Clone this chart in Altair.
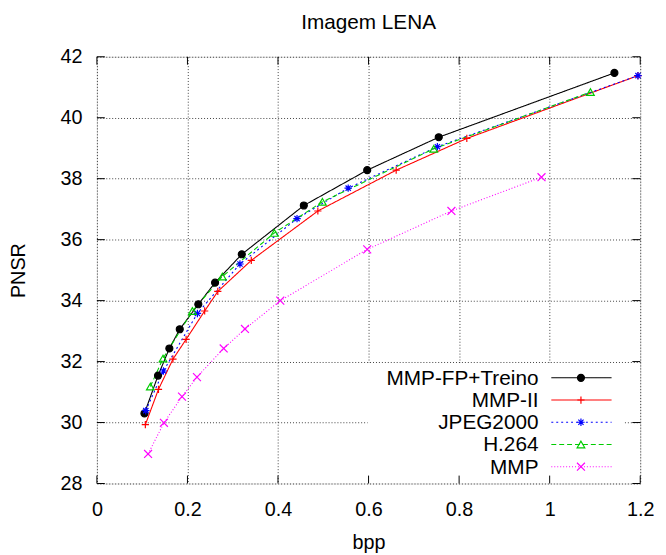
import altair as alt
import pandas as pd

# ---------------- data ----------------
series_names = ["MMP-FP+Treino", "MMP-II", "JPEG2000", "H.264", "MMP"]

bpp_fp = [0.105, 0.135, 0.160, 0.183, 0.224, 0.261, 0.320, 0.457, 0.597, 0.755, 1.143]
psnr_fp = [30.30, 31.54, 32.43, 33.06, 33.88, 34.59, 35.52, 37.12, 38.28, 39.36, 41.47]

bpp_mmp2 = [0.107, 0.136, 0.168, 0.197, 0.238, 0.267, 0.341, 0.488, 0.661, 0.817, 1.195]
psnr_mmp2 = [29.93, 31.09, 32.08, 32.73, 33.66, 34.30, 35.32, 36.94, 38.28, 39.32, 41.38]

bpp_jp = [0.108, 0.147, 0.222, 0.316, 0.442, 0.555, 0.752, 1.195]
psnr_jp = [30.39, 31.69, 33.58, 35.20, 36.69, 37.69, 39.05, 41.38]

bpp_h264 = [0.118, 0.146, 0.211, 0.277, 0.392, 0.498, 0.744, 1.090]
psnr_h264 = [31.18, 32.10, 33.66, 34.79, 36.22, 37.24, 38.98, 40.84]

bpp_mmp = [0.113, 0.148, 0.188, 0.221, 0.280, 0.327, 0.405, 0.597, 0.783, 0.982]
psnr_mmp = [28.97, 29.99, 30.85, 31.49, 32.43, 33.07, 34.00, 35.68, 36.94, 38.05]

x_ticks = [0, 0.2, 0.4, 0.6, 0.8, 1.0, 1.2]
y_ticks = [28, 30, 32, 34, 36, 38, 40, 42]

# ---------------- styles ----------------
colors = ["#000000", "#ff0000", "#0000ff", "#00cc00", "#ff00ff"]
dashes = [[1, 0], [1, 0], [2, 3], [5, 3], [1, 2]]
PLUS = "M-1,0L1,0M0,-1L0,1"
STAR = "M-1,0L1,0M0,-1L0,1M-0.7,-0.7L0.7,0.7M-0.7,0.7L0.7,-0.7"
XSHAPE = "M-1,-1L1,1M-1,1L1,-1"
shapes = ["circle", PLUS, STAR, "triangle-up", XSHAPE]
fills = ["#000000", "transparent", "transparent", "transparent", "transparent"]
sizes = [50, 64, 64, 45, 64]

FONT = "Liberation Sans"
FS = 20
LEG_FS = 21
W, H = 550, 432
TICK = 8

frames = []
for name, xs, ys in [
    (series_names[0], bpp_fp, psnr_fp),
    (series_names[1], bpp_mmp2, psnr_mmp2),
    (series_names[2], bpp_jp, psnr_jp),
    (series_names[3], bpp_h264, psnr_h264),
    (series_names[4], bpp_mmp, psnr_mmp),
]:
    frames.append(pd.DataFrame({"series": name, "bpp": xs, "psnr": ys}))
df = pd.concat(frames, ignore_index=True)
df["order"] = df.index

color_scale = alt.Scale(domain=series_names, range=colors)
dash_scale = alt.Scale(domain=series_names, range=dashes)
shape_scale = alt.Scale(domain=series_names, range=shapes)
fill_scale = alt.Scale(domain=series_names, range=fills)
size_scale = alt.Scale(domain=series_names, range=sizes)

GRID = dict(gridColor="#000000", gridOpacity=0.75, gridDash=[1, 2], gridWidth=1)

x_enc = alt.X(
    "bpp:Q",
    scale=alt.Scale(domain=[0, 1.2], nice=False, zero=False),
    axis=alt.Axis(
        values=x_ticks, title="bpp", grid=True, ticks=False, domain=False,
        labelFontSize=FS, labelFont=FONT, labelColor="black", labelPadding=16,
        labelFlush=False, labelExpr="datum.value == 0 ? '0' : (datum.value == 1 ? '1' : format(datum.value, '.1f'))",
        titleFontSize=FS, titleFont=FONT, titleFontWeight="normal", titleColor="black",
        titleY=60, titleBaseline="middle", **GRID,
    ),
)
y_enc = alt.Y(
    "psnr:Q",
    scale=alt.Scale(domain=[28, 42], nice=False, zero=False),
    axis=alt.Axis(
        values=y_ticks, title="PNSR", grid=True, ticks=False, domain=False,
        labelFontSize=FS, labelFont=FONT, labelColor="black", labelPadding=15,
        labelFlush=False,
        titleFontSize=FS, titleFont=FONT, titleFontWeight="normal", titleColor="black",
        titleX=-79, titleBaseline="middle", **GRID,
    ),
)

base = alt.Chart(df)

lines = base.mark_line(strokeWidth=1.1, clip=True).encode(
    x=x_enc,
    y=y_enc,
    color=alt.Color("series:N", scale=color_scale, legend=None),
    strokeDash=alt.StrokeDash("series:N", scale=dash_scale, legend=None),
    order="order:Q",
)

points = base.mark_point(strokeWidth=1.2, opacity=1).encode(
    x="bpp:Q",
    y="psnr:Q",
    color=alt.Color("series:N", scale=color_scale, legend=None),
    shape=alt.Shape("series:N", scale=shape_scale, legend=None),
    fill=alt.Fill("series:N", scale=fill_scale, legend=None),
    size=alt.Size("series:N", scale=size_scale, legend=None),
)

# white box behind the legend (hides grid lines, as in the reference)
box = alt.Chart(pd.DataFrame({"k": [0]})).mark_rect(color="white").encode(
    x=alt.value(274), x2=alt.value(534), y=alt.value(310), y2=alt.value(431)
)

# inward tick marks on all four sides (gnuplot style)
xt_df = pd.DataFrame({"bpp": x_ticks})
yt_df = pd.DataFrame({"psnr": y_ticks})
tick_style = dict(color="black", strokeWidth=1)
xt_bottom = alt.Chart(xt_df).mark_rule(**tick_style).encode(x="bpp:Q", y=alt.value(H), y2=alt.value(H - TICK))
xt_top = alt.Chart(xt_df).mark_rule(**tick_style).encode(x="bpp:Q", y=alt.value(0), y2=alt.value(TICK))
yt_left = alt.Chart(yt_df).mark_rule(**tick_style).encode(y="psnr:Q", x=alt.value(0), x2=alt.value(TICK))
yt_right = alt.Chart(yt_df).mark_rule(**tick_style).encode(y="psnr:Q", x=alt.value(W), x2=alt.value(W - TICK))

main = alt.layer(box, xt_bottom, xt_top, yt_left, yt_right, lines, points)

leg_df = pd.DataFrame({"series": series_names})
leg_y = alt.Y("series:N", scale=alt.Scale(type="point", domain=series_names, range=[325, 415], padding=0), axis=None)

leg_text = alt.Chart(leg_df).mark_text(align="right", baseline="middle", font=FONT, fontSize=LEG_FS, color="black", dy=1).encode(
    x=alt.value(447), y=leg_y, text="series:N"
)
leg_line = alt.Chart(leg_df).mark_rule(strokeWidth=1.1).encode(
    x=alt.value(460), x2=alt.value(521), y=leg_y,
    color=alt.Color("series:N", scale=color_scale, legend=None),
    strokeDash=alt.StrokeDash("series:N", scale=dash_scale, legend=None),
)
leg_pt = alt.Chart(leg_df).mark_point(strokeWidth=1.2, opacity=1).encode(
    x=alt.value(490), y=leg_y,
    color=alt.Color("series:N", scale=color_scale, legend=None),
    shape=alt.Shape("series:N", scale=shape_scale, legend=None),
    fill=alt.Fill("series:N", scale=fill_scale, legend=None),
    size=alt.Size("series:N", scale=size_scale, legend=None),
)

legend = alt.layer(leg_text, leg_line, leg_pt)

chart = alt.layer(main, legend).resolve_scale(y="independent").properties(
    width=W,
    height=H,
    title=alt.Title("Imagem LENA", font=FONT, fontSize=21, fontWeight="normal", color="black", offset=14),
    autosize="none",
    padding={"left": 90, "top": 46, "right": 18, "bottom": 67},
).configure_view(stroke="black", strokeWidth=1.2).configure(background="white")

chart.save("out.html", embed_options={"renderer": "svg", "actions": False})
